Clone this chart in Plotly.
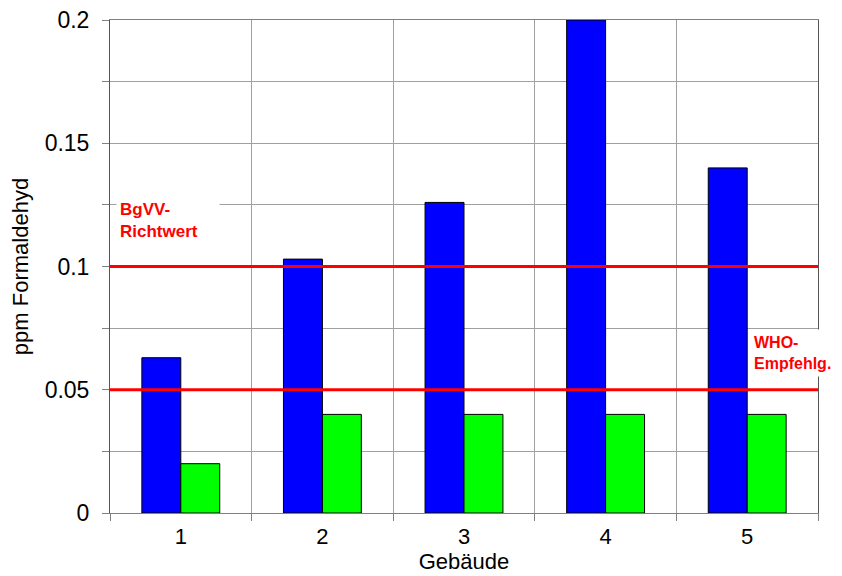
import plotly.graph_objects as go

categories = [1, 2, 3, 4, 5]
tick_labels = ["1", "2", "3", "4", "5"]
measured = [0.063, 0.103, 0.126, 0.2, 0.140]
second = [0.020, 0.040, 0.040, 0.040, 0.040]
bgvv_value = 0.1
who_value = 0.05

FONT = "Liberation Sans, Arial, sans-serif"

fig = go.Figure()
fig.add_trace(go.Bar(x=categories, y=measured, marker=dict(color="#0000FF", line=dict(color="#000000", width=1)),
                     showlegend=False, hoverinfo="y"))
fig.add_trace(go.Bar(x=categories, y=second, marker=dict(color="#00FF00", line=dict(color="#000000", width=1)),
                     showlegend=False, hoverinfo="y"))

for v in (bgvv_value, who_value):
    fig.add_shape(type="line", xref="paper", x0=0, x1=1, yref="y", y0=v, y1=v,
                  line=dict(color="#FF0000", width=3), layer="above")

fig.add_annotation(text="BgVV-<br>Richtwert", xref="paper", x=0.009, xanchor="left", yref="y", y=0.1185,
                   showarrow=False, align="left", bgcolor="white", borderpad=3, width=96,
                   font=dict(family=FONT, size=17, color="#FF0000", weight="bold"))
fig.add_annotation(text="WHO-<br>Empfehlg.", xref="paper", x=0.902, xanchor="left", yref="y", y=0.065,
                   showarrow=False, align="left", bgcolor="white", borderpad=4,
                   font=dict(family=FONT, size=16, color="#FF0000", weight="bold"))

fig.update_layout(
    width=842, height=576,
    margin=dict(l=102, r=32, t=12, b=71, autoexpand=False),
    paper_bgcolor="white", plot_bgcolor="white",
    barmode="group", bargap=0.45, bargroupgap=0,
    font=dict(family=FONT, size=22, color="#000000"),
)
fig.update_xaxes(
    range=[0.5, 5.5], tickvals=categories, ticktext=tick_labels, ticks="", showgrid=False,
    showline=True, linecolor="#808080", linewidth=1, mirror=True, automargin=False,
    tickfont=dict(size=22), ticklabelstandoff=4,
    minor=dict(tick0=0.5, dtick=1, ticks="outside", ticklen=7, tickcolor="#808080",
               showgrid=True, gridcolor="#A0A0A0", gridwidth=1),
    title=dict(text="Gebäude", font=dict(size=22), standoff=2),
)
fig.update_yaxes(
    range=[0, 0.2], tickvals=[0, 0.05, 0.1, 0.15, 0.2], ticktext=["0", "0.05", "0.1", "0.15", "0.2"],
    ticks="outside", ticklen=7, tickcolor="#808080", showgrid=True, gridcolor="#A0A0A0", gridwidth=1,
    showline=True, linecolor="#555555", linewidth=1, mirror=True, zeroline=False, automargin=False,
    tickfont=dict(size=23), ticklabelstandoff=8, ticklabeloverflow="allow",
    minor=dict(dtick=0.025, tick0=0, ticks="outside", ticklen=7, tickcolor="#808080",
               showgrid=True, gridcolor="#A0A0A0", gridwidth=1),
    title=dict(text="ppm Formaldehyd", font=dict(size=22), standoff=14),
)

fig.write_html("out.html")
